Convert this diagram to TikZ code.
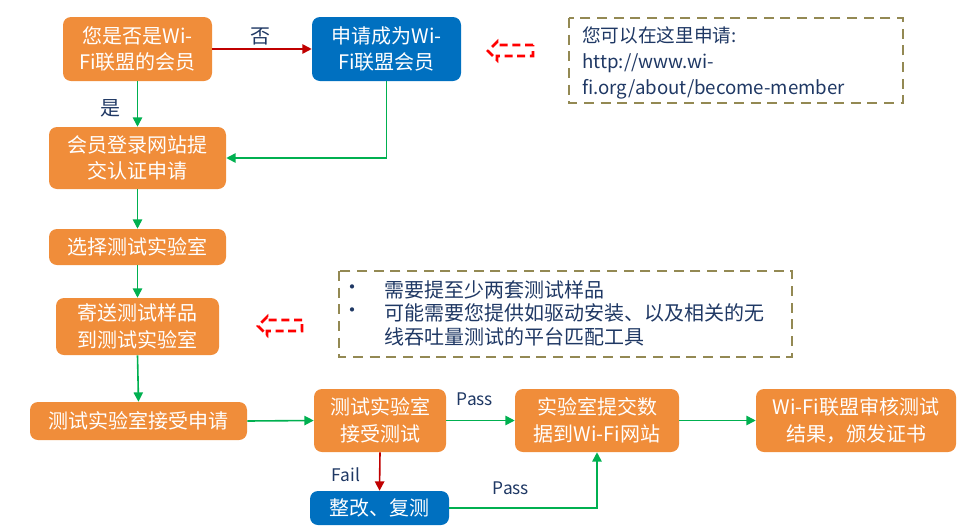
\documentclass[tikz,border=0pt]{standalone}
\usepackage{fontspec}
\setmainfont{Noto Sans CJK SC}
\usetikzlibrary{arrows.meta}
\newcommand\pxu{0.75pt}
\definecolor{boxorange}{HTML}{F08D3A}
\definecolor{boxblue}{HTML}{0070C0}
\definecolor{okgreen}{HTML}{00B050}
\definecolor{failred}{HTML}{C00000}
\definecolor{navy}{HTML}{1F3864}
\definecolor{olive}{HTML}{938953}
\tikzset{
  stepbox/.style={rounded corners=6pt, fill=boxorange, text=white, align=center,
    font=\fontsize{15pt}{20pt}\selectfont, inner sep=0pt},
  bluebox/.style={stepbox, fill=boxblue},
  okarrow/.style={draw=okgreen, line width=1.2pt, -{Triangle[length=7pt,width=7pt]}},
  failarrow/.style={draw=failred, line width=1.2pt, -{Triangle[length=7pt,width=7pt]}},
  lbl/.style={text=navy, inner sep=0pt},
  notebox/.style={draw=olive, line width=2.2pt, dash pattern=on 7.5pt off 5pt},
  hintarrow/.style={draw=red, line width=2pt, dash pattern=on 6pt off 3.5pt},
}
\begin{document}
\begin{tikzpicture}[x=\pxu, y=-\pxu]
\useasboundingbox (0,0) rectangle (964,529);

% step boxes
\node[stepbox, minimum width=149*\pxu, minimum height=64*\pxu] (b1) at (137.5,49) {您是否是Wi-\\Fi联盟的会员};
\node[bluebox, minimum width=149*\pxu, minimum height=64*\pxu] (b2) at (386.5,49) {申请成为Wi-\\Fi联盟会员};
\node[stepbox, minimum width=177*\pxu, minimum height=62*\pxu] (b3) at (137.5,158) {会员登录网站提\\交认证申请};
\node[stepbox, minimum width=177*\pxu, minimum height=36*\pxu] (b4) at (137.5,247) {选择测试实验室};
\node[stepbox, minimum width=163*\pxu, minimum height=57*\pxu] (b5) at (137.5,326.5) {寄送测试样品\\到测试实验室};
\node[stepbox, minimum width=217*\pxu, minimum height=38*\pxu] (b6) at (138.5,421) {测试实验室接受申请};
\node[stepbox, minimum width=132*\pxu, minimum height=63*\pxu] (b7) at (380,420.5) {测试实验室\\接受测试};
\node[stepbox, minimum width=164*\pxu, minimum height=63*\pxu] (b8) at (597,420.5) {实验室提交数\\据到Wi-Fi网站};
\node[stepbox, minimum width=200*\pxu, minimum height=63*\pxu] (b9) at (856,420.5) {Wi-Fi联盟审核测试\\结果，颁发证书};
\node[bluebox, minimum width=139*\pxu, minimum height=34*\pxu] (b10) at (379.5,508) {整改、复测};

% connectors
\draw[failarrow] (b1.east) -- (b2.west);
\node[lbl, font=\fontsize{15pt}{18pt}\selectfont] (lno) at (260,36) {否};
\draw[okarrow] (b1.south) -- (b3.north);
\node[lbl, font=\fontsize{15pt}{18pt}\selectfont] (lyes) at (110,108) {是};
\draw[okarrow] (b2.south) |- (b3.east);
\draw[okarrow] (b3.south) -- (b4.north);
\draw[okarrow] (b4.south) -- (b5.north);
\draw[okarrow] (b5.south) -- (b6.north);
\draw[okarrow] (b6.east) -- (b7.west);
\draw[okarrow] (b7.east) -- (b8.west);
\node[lbl, font=\fontsize{13pt}{16pt}\selectfont] (lpass1) at (475,399) {Pass};
\draw[okarrow] (b8.east) -- (b9.west);
\draw[failarrow] (b7.south) -- (b10.north);
\node[lbl, font=\fontsize{13pt}{16pt}\selectfont] (lfail) at (346,475) {Fail};
\draw[okarrow] (b10.east) -| (b8.south);
\node[lbl, font=\fontsize{13pt}{16pt}\selectfont] (lpass2) at (511,488) {Pass};

% note 1
\draw[notebox] (569,18) rectangle (903,103);
\node[lbl, anchor=west, font=\fontsize{14pt}{17pt}\selectfont] (n1a) at (582,35) {您可以在这里申请:};
\node[lbl, anchor=west, font=\fontsize{14pt}{17pt}\selectfont] (n1b) at (582,63) {http://www.wi-};
\node[lbl, anchor=west, font=\fontsize{14pt}{17pt}\selectfont] (n1c) at (582,89) {fi.org/about/become-member};

% hint arrow 1
\draw[hintarrow] (533,45) -- (497,45) -- (497,42) -- (488,51) -- (497,60) -- (497,56) -- (533,56) -- cycle;

% note 2
\draw[notebox] (339,271) rectangle (792,357);
\node[lbl, font=\fontsize{15pt}{18pt}\selectfont] (bul1) at (352,290) {•};
\node[lbl, font=\fontsize{15pt}{18pt}\selectfont] (bul2) at (352,313) {•};
\node[lbl, anchor=west, font=\fontsize{15pt}{18pt}\selectfont] (n2a) at (384,290) {需要提至少两套测试样品};
\node[lbl, anchor=west, font=\fontsize{15pt}{18pt}\selectfont] (n2b) at (384,313) {可能需要您提供如驱动安装、以及相关的无};
\node[lbl, anchor=west, font=\fontsize{15pt}{18pt}\selectfont] (n2c) at (384,337) {线吞吐量测试的平台匹配工具};

% hint arrow 2
\draw[hintarrow] (302,320) -- (267,320) -- (267,317) -- (258,326) -- (267,335) -- (267,331) -- (302,331) -- cycle;
\end{tikzpicture}
\end{document}
